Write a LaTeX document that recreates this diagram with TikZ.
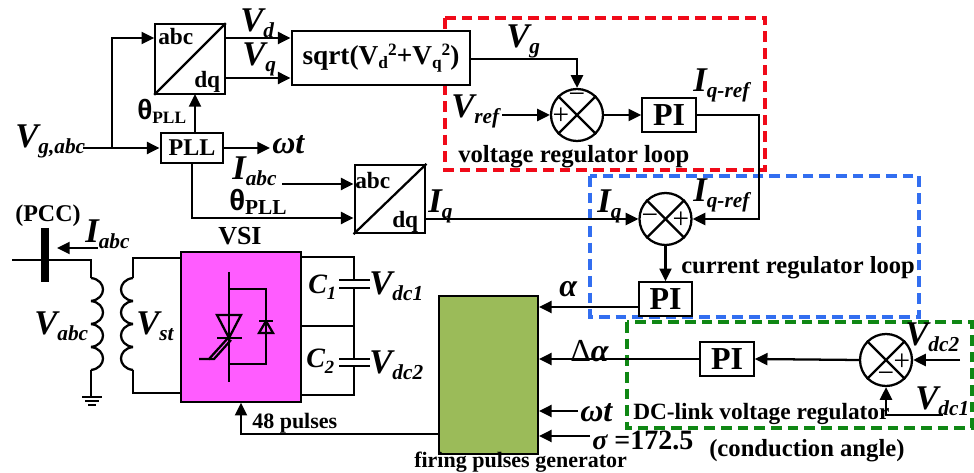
\documentclass[tikz,border=0pt]{standalone}
\usepackage{fontspec}
\setmainfont{Liberation Serif}
\newfontfamily\thetafont{Liberation Sans}
\usetikzlibrary{arrows.meta}
\newcommand{\sym}[2]{{\fontsize{26}{26}\selectfont\bfseries\itshape #1}\raisebox{-4.5pt}{\fontsize{16}{16}\selectfont\bfseries\itshape #2}}
\newcommand{\capsym}[2]{{\fontsize{21}{21}\selectfont\bfseries\itshape #1}\raisebox{-4.5pt}{\fontsize{14}{14}\selectfont\bfseries\itshape #2}}
\newcommand{\thpll}[3]{{\thetafont\fontsize{#1}{#1}\selectfont\bfseries θ}\raisebox{-3pt}{\fontsize{#2}{#2}\selectfont\bfseries #3}}
\newcommand{\txt}[2]{{\fontsize{#1}{#1}\selectfont\bfseries #2}}
\tikzset{
  wire/.style={line width=1.7pt},
  conn/.style={line width=1.7pt,-{Triangle[length=9.5pt,width=9pt]}},
  blockbox/.style={draw,fill=white,line width=1.7pt,inner sep=0pt,font=\bfseries},
  sumnode/.style={draw,fill=white,circle,line width=1.7pt,minimum size=39pt,inner sep=0pt},
  lab/.style={anchor=base west,inner sep=0pt},
  sgn/.style={inner sep=0pt,font=\fontsize{22}{22}\selectfont},
  loopbox/.style={line width=2.3pt,dash pattern=on 8pt off 4.5pt}
}
\begin{document}
\begin{tikzpicture}[x=0.75pt,y=0.75pt,yscale=-1,xscale=1]
\useasboundingbox (0,0) rectangle (974,473);

% Dashed loops
\draw[loopbox,color={rgb,255:red,240;green,10;blue,25}] (445,18) rectangle (765,170);
\draw[loopbox,color={rgb,255:red,50;green,110;blue,240}] (590,176) rectangle (919,317);
\draw[loopbox,color={rgb,255:red,15;green,135;blue,20}] (627,322) rectangle (972,428);

% Blocks
\node[blockbox,minimum width=52pt,minimum height=52pt] (park1) at (190,59) {};
\node[blockbox,minimum width=47pt,minimum height=23pt,font=\fontsize{18}{18}\selectfont\bfseries] (pll) at (192,148) {PLL};
\node[blockbox,minimum width=134pt,minimum height=40pt] (root) at (381,58) {\txt{20.5}{sqrt(V\raisebox{-3pt}{\fontsize{13}{13}\selectfont d}\raisebox{7pt}{\fontsize{13}{13}\selectfont 2}+V\raisebox{-3pt}{\fontsize{13}{13}\selectfont q}\raisebox{7pt}{\fontsize{13}{13}\selectfont 2})}};
\node[blockbox,minimum width=53pt,minimum height=51pt] (park2) at (390,199) {};
\node[blockbox,minimum width=40pt,minimum height=25pt,font=\fontsize{24}{24}\selectfont\bfseries] (pi1) at (669,115) {PI};
\node[blockbox,minimum width=40pt,minimum height=25pt,font=\fontsize{24}{24}\selectfont\bfseries] (pi2) at (665.5,299) {PI};
\node[blockbox,minimum width=40pt,minimum height=25pt,font=\fontsize{24}{24}\selectfont\bfseries] (pi3) at (727,359) {PI};
\node[sumnode] (sum1) at (577,115) {};
\node[sumnode] (sum2) at (665.5,219) {};
\node[sumnode] (sum3) at (886,360) {};
\node[blockbox,fill={rgb,255:red,155;green,187;blue,89},minimum width=74pt,minimum height=118pt] (gen) at (488.5,375) {};
\node[blockbox,fill={rgb,255:red,255;green,92;blue,255},minimum width=90pt,minimum height=112pt] (vsi) at (241,327) {};

% Diagonals and crosses
\draw[wire] (park1.south west) -- (park1.north east);
\draw[wire] (park2.south west) -- (park2.north east);
\foreach \n in {sum1,sum2,sum3} {
  \draw[wire] (\n.north west) -- (\n.south east);
  \draw[wire] (\n.south west) -- (\n.north east);
}

% Signs
\node[sgn] (s1a) at (561,116) {+};
\node[sgn] (s1b) at (577,98) {\textminus};
\node[sgn] (s2a) at (650,219) {\textminus};
\node[sgn] (s2b) at (681,220) {+};
\node[sgn] (s3a) at (902,362) {+};
\node[sgn] (s3b) at (886,377) {\textminus};

% Free ends
\coordinate (vgin) at (83,148);
\coordinate (vgup) at (112,148);
\coordinate (wt1) at (270,148);
\coordinate (iabcin) at (282,184);
\coordinate (vrefin) at (502,115);
\coordinate (wtin) at (578,411);
\coordinate (sigin) at (590,436);
\coordinate (dc2in) at (960,360);
\coordinate (dc1in) at (943,415);
\coordinate (buscorner) at (91,260);

% Connectors
\draw[wire] (vgin) -- (vgup);
\draw[conn] (vgup) -- (pll.west);
\draw[conn] (vgup) |- (park1.west |- 0,38);
\draw[conn] (park1.east |- 0,38) -- (root.west |- 0,38);
\draw[conn] (park1.east |- 0,78) -- (root.west |- 0,78);
\draw[conn] (195,133) -- (195,94);
\draw[conn] (pll.east) -- (wt1);
\draw[conn] (pll.south) |- (park2.west |- 0,218);
\draw[conn] (iabcin) -- (park2.west |- iabcin);
\draw[conn] (root.east |- 0,59) -| (sum1.north);
\draw[conn] (vrefin) -- (sum1.west);
\draw[conn] (sum1.east) -- (pi1.west);
\draw[conn] (park2.east |- sum2) -- (sum2.west);
\draw[conn] (pi1.east) -- (759,115) |- (sum2.east);
\draw[conn] (sum2.south) -- (pi2.north);
\draw[conn] (pi2.west |- 0,307) -- (gen.east |- 0,307);
\draw[conn] (pi3.west) -- (gen.east |- pi3);
\draw[conn] (sum3.west) -- (pi3.east);
\draw[conn] (dc2in) -- (sum3.east);
\draw[conn] (dc1in) -| (sum3.south);
\draw[conn] (wtin) -- (gen.east |- wtin);
\draw[conn] (sigin) -- (gen.east |- sigin);
\draw[conn] (gen.west |- 0,434) -| (vsi.south -| 241,0);

% Bus and transformer
\draw[line width=6pt] (45,228) -- (45,282);
\draw[wire] (12,260) -- (buscorner) -- (91,278);
\draw[conn] (98,248) -- (57,248);
\foreach \yy in {278,301,324,347} {
  \draw[wire] (91,\yy) .. controls (107,\yy+2) and (107,\yy+21) .. (91,\yy+23);
  \draw[wire] (133,\yy) .. controls (117,\yy+2) and (117,\yy+21) .. (133,\yy+23);
}
\draw[wire] (91,370) -- (91,397);
\draw[wire] (82,397) -- (102,397) (85,401) -- (99,401) (88,405) -- (96,405);
\draw[wire] (vsi.west |- 0,258) -- (133,258) -- (133,278);
\draw[wire] (133,370) -- (133,393) -- (vsi.west |- 0,393);

% DC side
\draw[wire] (vsi.east |- 0,257) -- (354,257) -- (354,280);
\draw[wire] (354,288) -- (354,359);
\draw[wire] (354,366) -- (354,395) -- (vsi.east |- 0,395);
\draw[wire] (vsi.east |- 0,326) -- (354,326);
\draw[wire] (339,280) -- (370,280) (339,288) -- (370,288);
\draw[wire] (339,359) -- (370,359) (339,366) -- (370,366);

% Switch
\draw[wire] (229,272) -- (229,382);
\draw[wire] (229,289) -- (266,289) -- (266,364) -- (229,364);
\draw[wire] (217,315) -- (241,315) -- (229,338) -- cycle;
\draw[wire] (217,338) -- (242,338);
\draw[wire] (199,359) -- (209,359) -- (228,338);
\draw[wire] (209,359) -- (214,359) -- (231,340);
\draw[wire] (259,321) -- (273,321);
\draw[wire] (266,321) -- (259,333) -- (273,333) -- cycle;

% Text Nodes
\node[lab] (tabc1) at (158,45) {\txt{17.5}{abc}};
\node[lab] (tdq1) at (194,88) {\txt{17.5}{dq}};
\node[lab] (tabc2) at (355,189) {\txt{17.5}{abc}};
\node[lab] (tdq2) at (392,228) {\txt{17.5}{dq}};
\node[lab] (lvgabc) at (15,148) {\sym{V}{g,abc}};
\node[lab] (lvd) at (240,32) {\sym{V}{d}};
\node[lab] (lvq) at (242,66) {\sym{V}{q}};
\node[lab] (lth1) at (137,120) {\thpll{21}{13}{PLL}};
\node[lab] (lwt1) at (272,154) {\txt{24}{\itshape ωt}};
\node[lab] (liabc1) at (232,180) {\sym{I}{abc}};
\node[lab] (lth2) at (229,211) {\thpll{22}{16}{PLL}};
\node[lab] (lpcc) at (15,222) {\txt{18}{(PCC)}};
\node[lab] (liabc2) at (85,243) {\sym{I}{abc}};
\node[lab] (lvsi) at (218,245) {\txt{19.5}{VSI}};
\node[lab] (lvabc) at (34,335) {\sym{V}{abc}};
\node[lab] (lvst) at (136,335) {\sym{V}{st}};
\node[lab] (lc1) at (308,294) {\capsym{C}{1}};
\node[lab] (lc2) at (306,368) {\capsym{C}{2}};
\node[lab] (lvdc1) at (369,295) {\sym{V}{dc1}};
\node[lab] (lvdc2) at (369,374) {\sym{V}{dc2}};
\node[lab] (lpulses) at (252,429) {\txt{16.5}{48 pulses}};
\node[lab] (lgen) at (414,468) {\txt{16.5}{firing pulses generator}};
\node[lab] (lvg) at (506,48) {\sym{V}{g}};
\node[lab] (lvref) at (451,118) {\sym{V}{ref}};
\node[lab] (liqr1) at (693,92) {\sym{I}{q-ref}};
\node[lab] (lvloop) at (458,163) {\txt{18.5}{voltage regulator loop}};
\node[lab] (liq1) at (428,213) {\sym{I}{q}};
\node[lab] (liq2) at (597,213) {\sym{I}{q}};
\node[lab] (liqr2) at (693,202) {\sym{I}{q-ref}};
\node[lab] (lcloop) at (681,274) {\txt{18.4}{current regulator loop}};
\node[lab] (lalpha) at (559,297) {\txt{24}{\itshape α}};
\node[lab] (ldalpha) at (570,362) {{\fontsize{24}{24}\selectfont Δ}\txt{24}{\itshape α}};
\node[lab] (lwt2) at (580,422) {\txt{24}{\itshape ωt}};
\node[lab] (lsigma) at (592,450) {\txt{21}{\itshape σ \upshape =172.5}};
\node[lab] (lcond) at (709,456) {\txt{18.5}{(conduction angle)}};
\node[lab] (ldc) at (633,420) {\txt{17.5}{DC-link voltage regulator}};
\node[lab] (lvdc2b) at (905,346) {\sym{V}{dc2}};
\node[lab] (lvdc1b) at (915,410) {\sym{V}{dc1}};

\end{tikzpicture}
\end{document}
